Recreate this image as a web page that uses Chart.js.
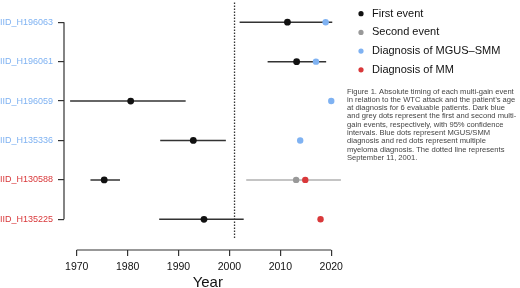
<!DOCTYPE html>
<html>
<head>
<meta charset="utf-8">
<script src="https://cdn.jsdelivr.net/npm/chart.js@4.4.1/dist/chart.umd.min.js"></script>
<style>
  html, body { margin: 0; padding: 0; background: #fff; }
  #wrap { width: 520px; height: 288px; }
</style>
</head>
<body>
<div id="wrap"><canvas id="timing" width="520" height="288"></canvas></div>
<script>
// patients, top to bottom
const patients = ['IID_H196063', 'IID_H196061', 'IID_H196059', 'IID_H135336', 'IID_H130588', 'IID_H135225'];
const patientColors = ['#7fb2f2', '#7fb2f2', '#7fb2f2', '#7fb2f2', '#d9383a', '#d9383a'];

// first multi-gain event with 95% CI
const firstEvent = [2011.4, 2013.2, 1980.6, 1992.9, 1975.4, 1995.0];
const firstLo    = [2002.0, 2007.5, 1968.7, 1986.4, 1972.7, 1986.2];
const firstHi    = [2020.2, 2019.0, 1991.4, 1999.3, 1978.5, 2002.8];

// second multi-gain event with 95% CI
const secondEvent = [null, null, null, null, 2013.1, null];
const secondLo    = [null, null, null, null, 2003.3, null];
const secondHi    = [null, null, null, null, 2021.9, null];

// diagnosis years
const mgusDx = [2018.9, 2017.0, 2020.0, 2013.9, null, null];
const mmDx   = [null, null, null, null, 2014.9, 2017.9];

const wtcYear = 2001;
const yearTicks = [1970, 1980, 1990, 2000, 2010, 2020];

const legendLabels = ['First event', 'Second event', 'Diagnosis of MGUS\u2013SMM', 'Diagnosis of MM'];
const legendColors = ['#111111', '#999999', '#7fb2f2', '#d9383a'];

const caption = [
  'Figure 1. Absolute timing of each multi-gain event',
  'in relation to the WTC attack and the patient\u2019s age',
  'at diagnosis for 6 evaluable patients. Dark blue',
  'and grey dots represent the first and second multi-',
  'gain events, respectively, with 95% confidence',
  'intervals. Blue dots represent MGUS/SMM',
  'diagnosis and red dots represent multiple',
  'myeloma diagnosis. The dotted line represents',
  'September 11, 2001.'
];

Chart.defaults.font.family = "'Liberation Sans', Arial, Helvetica, sans-serif";

function pts(vals) {
  const out = [];
  vals.forEach((v, i) => { if (v !== null) out.push({ x: v, y: i }); });
  return out;
}

const datasets = [];
datasets.push({ label: legendLabels[0], data: pts(firstEvent), backgroundColor: legendColors[0], borderWidth: 0, pointRadius: 3.4, order: 1 });
datasets.push({ label: legendLabels[1], data: pts(secondEvent), backgroundColor: legendColors[1], borderWidth: 0, pointRadius: 3.2, order: 1 });
datasets.push({ label: legendLabels[2], data: pts(mgusDx), backgroundColor: legendColors[2], borderWidth: 0, pointRadius: 3.2, order: 1 });
datasets.push({ label: legendLabels[3], data: pts(mmDx), backgroundColor: legendColors[3], borderWidth: 0, pointRadius: 3.2, order: 1 });

// confidence intervals
firstLo.forEach((lo, i) => {
  datasets.push({ data: [{ x: lo, y: i }, { x: firstHi[i], y: i }], showLine: true, borderColor: '#333333', borderWidth: 1.5, pointRadius: 0, order: 3 });
});
secondLo.forEach((lo, i) => {
  if (lo === null) return;
  datasets.push({ data: [{ x: lo, y: i }, { x: secondHi[i], y: i }], showLine: true, borderColor: '#c4c4c4', borderWidth: 2, pointRadius: 0, order: 4 });
});

// 9/11 reference line
datasets.push({
  data: [{ x: wtcYear, y: -0.5 }, { x: wtcYear, y: patients.length - 0.5 }],
  showLine: true, borderColor: '#333333', borderWidth: 1.3, borderDash: [1.5, 1.5],
  pointRadius: 0, clip: false, order: 5
});

const rAxes = {
  id: 'rAxes',
  afterDatasetsDraw(chart) {
    const { ctx, chartArea, scales } = chart;
    ctx.save();
    ctx.strokeStyle = '#333333';
    ctx.lineWidth = 1.2;
    ctx.beginPath();
    ctx.moveTo(scales.x.getPixelForValue(yearTicks[0]), chartArea.bottom);
    ctx.lineTo(scales.x.getPixelForValue(yearTicks[yearTicks.length - 1]), chartArea.bottom);
    ctx.moveTo(chartArea.left, scales.y.getPixelForValue(0));
    ctx.lineTo(chartArea.left, scales.y.getPixelForValue(patients.length - 1));
    ctx.stroke();

    // legend
    ctx.font = "11px 'Liberation Sans', Arial, sans-serif";
    ctx.textBaseline = 'middle';
    ctx.textAlign = 'left';
    legendLabels.forEach((lab, i) => {
      const y = 13.7 + i * 18.7;
      ctx.fillStyle = legendColors[i];
      ctx.beginPath();
      ctx.arc(361, y, 2.6, 0, Math.PI * 2);
      ctx.fill();
      ctx.fillStyle = '#111111';
      ctx.fillText(lab, 372, y);
    });

    // caption
    ctx.font = "7.6px 'Liberation Sans', Arial, sans-serif";
    ctx.fillStyle = '#444444';
    caption.forEach((line, i) => {
      ctx.fillText(line, 347, 91.5 + i * 8.3);
    });
    ctx.restore();
  }
};

new Chart(document.getElementById('timing'), {
  type: 'scatter',
  data: { datasets },
  options: {
    responsive: false,
    animation: false,
    layout: { padding: { top: 8, right: 168.4, left: 0, bottom: 0 } },
    plugins: { legend: { display: false }, tooltip: { enabled: false } },
    scales: {
      x: {
        type: 'linear',
        min: 1967.5,
        max: 2024,
        afterBuildTicks: s => { s.ticks = yearTicks.map(v => ({ value: v })); },
        afterFit: s => { s.height = 38; },
        border: { display: false },
        grid: { drawOnChartArea: false, drawTicks: true, tickLength: 6, color: '#333333', lineWidth: 1.2 },
        ticks: { color: '#111111', font: { size: 10.5 }, padding: 5, maxRotation: 0, callback: v => String(v) },
        title: { display: true, text: 'Year', color: '#111111', font: { size: 15 }, padding: { top: 0, bottom: -4 } }
      },
      y: {
        type: 'linear',
        reverse: true,
        min: -0.3,
        max: 5.779,
        afterBuildTicks: s => { s.ticks = patients.map((p, i) => ({ value: i })); },
        afterFit: s => { s.width = 64; },
        border: { display: false },
        grid: { drawOnChartArea: false, drawTicks: true, tickLength: 6, color: '#333333', lineWidth: 1.2 },
        ticks: {
          font: { size: 9 },
          padding: 5,
          color: ctx => patientColors[ctx.index],
          callback: v => patients[v]
        }
      }
    }
  },
  plugins: [rAxes]
});
</script>
</body>
</html>
